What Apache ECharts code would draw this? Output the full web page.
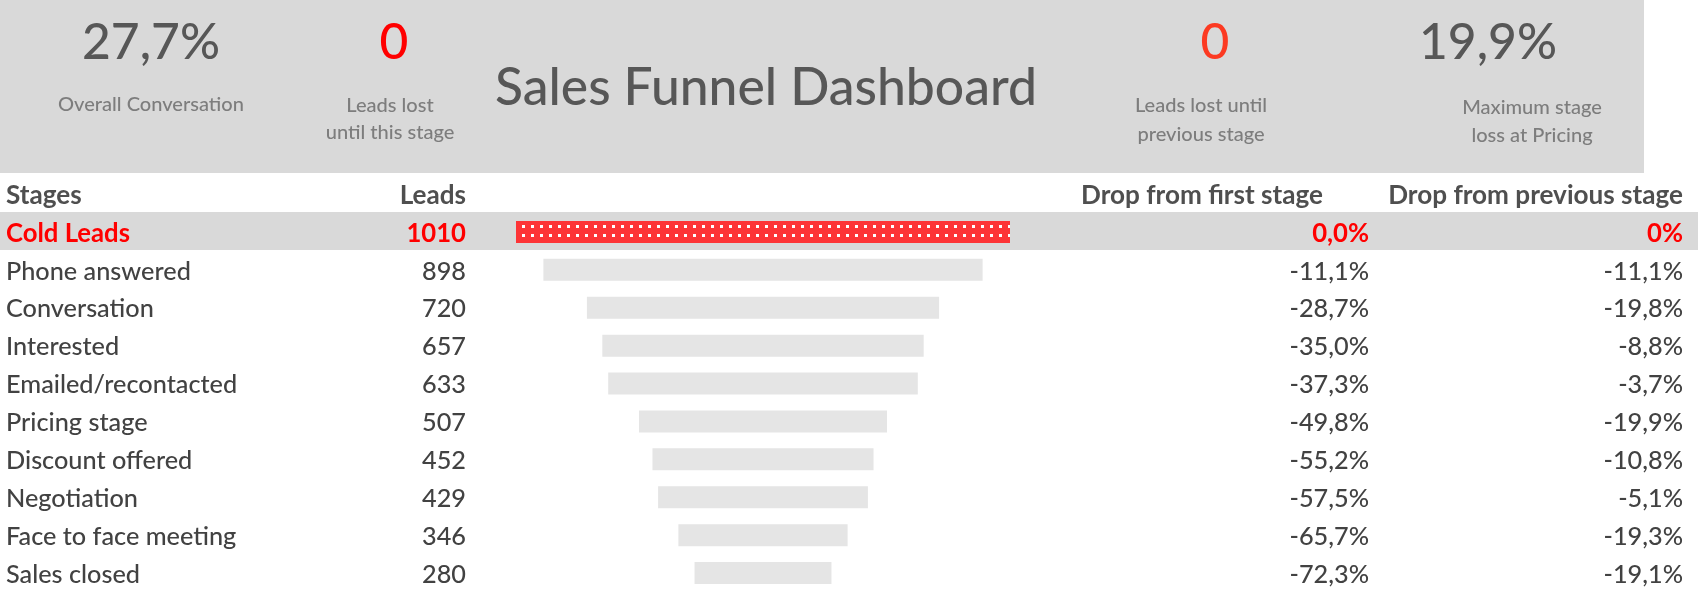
<!DOCTYPE html>
<html>
<head>
<meta charset="utf-8">
<script src="https://cdn.jsdelivr.net/npm/echarts@6/dist/echarts.min.js"></script>
<style>
html,body{margin:0;padding:0;background:#ffffff;}
#c{width:1698px;height:606px;}
</style>
</head>
<body>
<div id="c"></div>
<script>
// ---- data ----
const stages = ['Cold Leads', 'Phone answered', 'Conversation', 'Interested', 'Emailed/recontacted',
  'Pricing stage', 'Discount offered', 'Negotiation', 'Face to face meeting', 'Sales closed'];
const leads = [1010, 898, 720, 657, 633, 507, 452, 429, 346, 280];
const dropFirst = ['0,0%', '-11,1%', '-28,7%', '-35,0%', '-37,3%', '-49,8%', '-55,2%', '-57,5%', '-65,7%', '-72,3%'];
const dropPrev = ['0%', '-11,1%', '-19,8%', '-8,8%', '-3,7%', '-19,9%', '-10,8%', '-5,1%', '-19,3%', '-19,1%'];
const columnHeaders = ['Stages', 'Leads', 'Drop from first stage', 'Drop from previous stage'];
const kpiValues = ['27,7%', '0', '0', '19,9%'];
const kpiLabels = [['Overall Conversation'], ['Leads lost', 'until this stage'], ['Leads lost until', 'previous stage'], ['Maximum stage', 'loss at Pricing']];
const titleText = 'Sales Funnel Dashboard';

// ---- style helpers ----
const FAM = 'Lato';
const REG = 500;
const ctx = document.createElement('canvas').getContext('2d');
function fit(text, weight, target) {
  ctx.font = weight + ' 100px ' + FAM;
  return 100 * target / ctx.measureText(text).width;
}
const rowSize = fit('Phone answered', REG, 185);
const boldRowSize = fit('Cold Leads', 'bold', 124);
const headSize = fit('Drop from first stage', 'bold', 242);
const kpiSize = fit('27,7%', REG, 138);
const lblSize = fit('Overall Conversation', REG, 186);
const titleSize = fit(titleText, REG, 542);

const maxLead = Math.max.apply(null, leads);
const ROW_TEXT = '#424242', HEAD_TEXT = '#4f4f4f', RED = '#ff0000';

function rich() {
  return {
    n: { fontFamily: FAM, fontSize: rowSize, fontWeight: REG, color: ROW_TEXT },
    hl: { fontFamily: FAM, fontSize: boldRowSize, fontWeight: 'bold', color: RED }
  };
}
function fmt(v, i) { return i === 0 ? '{hl|' + v + '}' : '{n|' + v + '}'; }
function labelAxis(data, position, margin, align) {
  return {
    type: 'category', data: data, inverse: true, position: position,
    axisLine: { show: false }, axisTick: { show: false }, splitLine: { show: false },
    axisLabel: { interval: 0, margin: margin, align: align, padding: [3, 0, 0, 0], formatter: fmt, rich: rich() }
  };
}

function txt(text, x, y, size, weight, color, align) {
  return {
    type: 'text', x: x, y: y + size * 0.05, z: 100, silent: true,
    style: { text: text, fontSize: size, fontFamily: FAM, fontWeight: weight, fill: color,
      align: align, verticalAlign: 'middle' }
  };
}

const kpiX = [151, 394, 1215, 1488];
const kpiLblX = [151, 390, 1201, 1532];
const kpiColors = ['#575757', '#ff0000', '#fc3a22', '#575757'];
const kpiLblY = [[104], [105, 132], [105, 134], [107, 135]];
const LBL = '#7d7d7d';

const graphics = [
  { type: 'rect', z: 0, silent: true, shape: { x: 0, y: 0, width: 1644, height: 173 }, style: { fill: '#d9d9d9' } },
  { type: 'rect', z: 0, silent: true, shape: { x: 0, y: 212, width: 1698, height: 38 }, style: { fill: '#d9d9d9' } },
  txt(titleText, 766, 86, titleSize, REG, '#575757', 'center'),
  txt(columnHeaders[0], 6, 194, headSize, 'bold', HEAD_TEXT, 'left'),
  txt(columnHeaders[1], 466, 194, headSize, 'bold', HEAD_TEXT, 'right'),
  txt(columnHeaders[2], 1323, 194, headSize, 'bold', HEAD_TEXT, 'right'),
  txt(columnHeaders[3], 1683, 194, headSize, 'bold', HEAD_TEXT, 'right')
];
kpiValues.forEach(function (v, i) {
  graphics.push(txt(v, kpiX[i], 40, kpiSize, REG, kpiColors[i], 'center'));
  kpiLabels[i].forEach(function (l, j) {
    graphics.push(txt(l, kpiLblX[i], kpiLblY[i][j], lblSize, REG, LBL, 'center'));
  });
});

const chart = echarts.init(document.getElementById('c'), null, { renderer: 'canvas' });
chart.setOption({
  animation: false,
  backgroundColor: '#ffffff',
  grid: { left: 516, width: 494, top: 213, height: 379, outerBoundsMode: 'none', containLabel: false },
  xAxis: { type: 'value', min: 0, max: maxLead, show: false },
  yAxis: [
    labelAxis(stages, 'left', 510, 'left'),
    labelAxis(leads.map(String), 'left', 50, 'right'),
    labelAxis(dropFirst, 'right', 359, 'right'),
    labelAxis(dropPrev, 'right', 673, 'right')
  ],
  series: [
    {
      type: 'bar', stack: 'funnel', yAxisIndex: 0, barWidth: 22, silent: true,
      itemStyle: { color: 'rgba(0,0,0,0)' },
      data: leads.map(function (v) { return (maxLead - v) / 2; })
    },
    {
      type: 'bar', stack: 'funnel', yAxisIndex: 0, barWidth: 22, silent: true,
      itemStyle: { color: '#e5e5e5' },
      data: leads.map(function (v, i) {
        return i === 0 ? {
          value: v,
          itemStyle: {
            color: '#fd3436',
            decal: { symbol: 'rect', symbolSize: 1, color: '#ffffff', dashArrayX: [2.4, 5.4], dashArrayY: [2.4, 5.1], rotation: 0 }
          }
        } : v;
      })
    }
  ],
  graphic: graphics
});
</script>
</body>
</html>
